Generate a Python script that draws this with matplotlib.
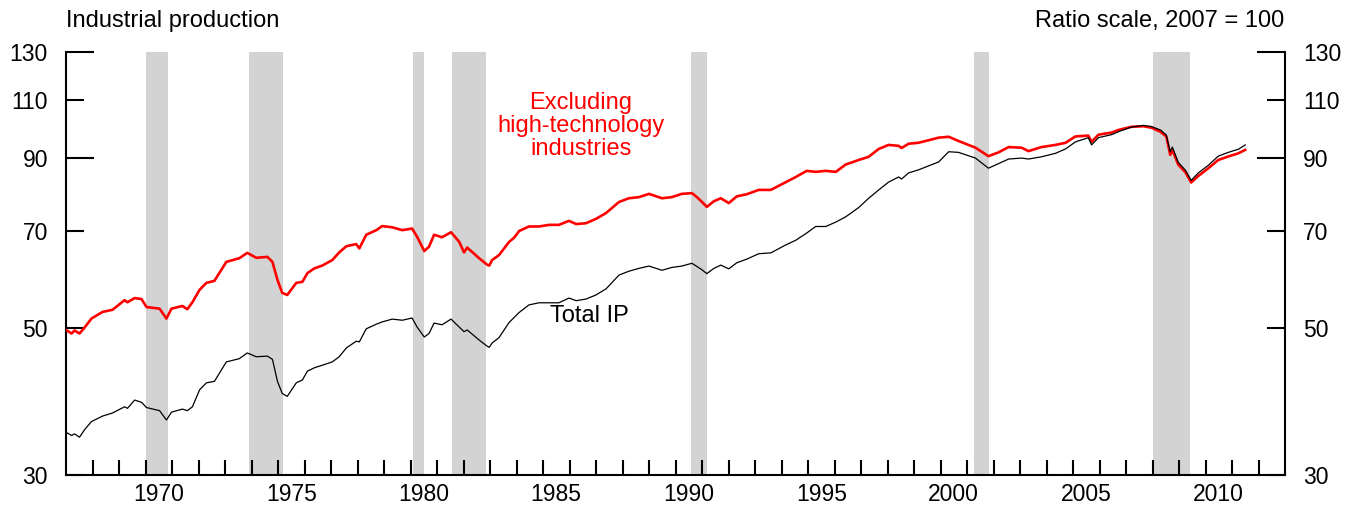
import matplotlib
matplotlib.use("Agg")
import matplotlib.pyplot as plt
from matplotlib.ticker import FixedLocator, NullLocator, FixedFormatter

plt.rcParams['font.family'] = ['Liberation Sans', 'DejaVu Sans']

# ---- data (2007 = 100) ----
dates = [
    1967.00, 1967.21, 1967.32, 1967.51, 1967.70, 1967.96, 1968.38, 1968.76, 1969.21, 1969.32,
    1969.59, 1969.85, 1970.04, 1970.53, 1970.79, 1970.98, 1971.39, 1971.58, 1971.77, 1972.04,
    1972.30, 1972.60, 1973.05, 1973.54, 1973.84, 1974.18, 1974.60, 1974.79, 1974.98, 1975.16,
    1975.35, 1975.69, 1975.92, 1976.11, 1976.37, 1976.67, 1977.05, 1977.31, 1977.58, 1977.95,
    1978.07, 1978.33, 1978.71, 1978.93, 1979.31, 1979.69, 1980.06, 1980.25, 1980.52, 1980.70,
    1980.89, 1981.19, 1981.53, 1981.84, 1982.02, 1982.14, 1982.59, 1982.89, 1982.97, 1983.08,
    1983.34, 1983.72, 1983.91, 1984.10, 1984.47, 1984.85, 1985.23, 1985.60, 1985.98, 1986.25,
    1986.62, 1987.00, 1987.38, 1987.87, 1988.24, 1988.62, 1989.00, 1989.49, 1989.86, 1990.24,
    1990.62, 1990.81, 1991.00, 1991.18, 1991.45, 1991.71, 1992.01, 1992.31, 1992.69, 1993.14,
    1993.60, 1994.16, 1994.54, 1994.95, 1995.29, 1995.67, 1996.05, 1996.42, 1996.91, 1997.29,
    1997.67, 1998.04, 1998.42, 1998.53, 1998.80, 1999.17, 1999.93, 2000.31, 2000.68, 2001.32,
    2001.81, 2002.19, 2002.57, 2003.06, 2003.32, 2003.81, 2004.34, 2004.72, 2005.09, 2005.58,
    2005.70, 2005.96, 2006.45, 2006.71, 2007.20, 2007.66, 2007.96, 2008.30, 2008.52, 2008.67,
    2008.75, 2008.97, 2009.24, 2009.46, 2009.73, 2010.11, 2010.48, 2010.86, 2011.24, 2011.50,
]

excl_high_tech = [
    49.6, 49.0, 49.5, 49.0, 50.0, 51.6, 52.8, 53.2, 55.0, 54.6,
    55.4, 55.2, 53.7, 53.4, 51.6, 53.4, 53.9, 53.3, 54.6, 57.0,
    58.4, 58.8, 62.8, 63.6, 64.8, 63.7, 63.9, 62.8, 59.0, 56.4,
    56.0, 58.4, 58.6, 60.4, 61.4, 62.0, 63.2, 64.9, 66.3, 66.8,
    65.8, 69.0, 70.1, 71.1, 70.8, 70.1, 70.5, 68.5, 65.2, 66.2,
    69.0, 68.4, 69.6, 67.3, 64.9, 66.0, 63.6, 62.2, 62.0, 63.2,
    64.3, 67.3, 68.3, 69.9, 71.0, 71.0, 71.4, 71.4, 72.4, 71.6,
    71.8, 72.9, 74.4, 77.3, 78.3, 78.6, 79.5, 78.3, 78.6, 79.5,
    79.7, 78.6, 77.3, 76.0, 77.5, 78.3, 77.0, 78.8, 79.4, 80.6,
    80.6, 82.8, 84.3, 86.1, 85.8, 86.1, 85.8, 88.0, 89.4, 90.4,
    92.9, 94.2, 93.9, 93.2, 94.6, 94.9, 96.6, 96.9, 95.5, 93.3,
    90.6, 91.8, 93.5, 93.3, 92.2, 93.5, 94.2, 94.9, 97.0, 97.3,
    95.2, 97.6, 98.3, 99.2, 100.3, 100.5, 100.0, 98.6, 97.0, 91.0,
    92.6, 88.0, 85.7, 82.7, 84.6, 86.9, 89.4, 90.5, 91.5, 92.6,
]

total_ip = [
    34.8, 34.4, 34.6, 34.2, 35.1, 36.1, 36.8, 37.2, 38.0, 37.8,
    38.9, 38.6, 37.9, 37.5, 36.3, 37.3, 37.7, 37.5, 38.0, 40.3,
    41.3, 41.5, 44.4, 44.9, 45.8, 45.2, 45.3, 44.8, 41.5, 39.8,
    39.4, 41.3, 41.7, 43.0, 43.5, 43.9, 44.4, 45.2, 46.6, 47.7,
    47.6, 49.8, 50.6, 51.0, 51.5, 51.3, 51.7, 50.1, 48.4, 49.0,
    50.8, 50.5, 51.5, 50.1, 49.3, 49.6, 47.9, 46.9, 46.7, 47.4,
    48.3, 50.9, 51.8, 52.7, 54.1, 54.5, 54.5, 54.5, 55.4, 54.9,
    55.2, 56.0, 57.2, 60.0, 60.8, 61.4, 61.9, 61.0, 61.6, 61.9,
    62.5, 61.8, 61.1, 60.3, 61.4, 62.1, 61.3, 62.6, 63.4, 64.6,
    64.8, 66.6, 67.7, 69.4, 71.0, 71.0, 72.1, 73.4, 75.8, 78.3,
    80.6, 82.8, 84.3, 83.7, 85.5, 86.4, 88.8, 92.0, 91.8, 90.0,
    86.9, 88.3, 89.7, 90.0, 89.7, 90.4, 91.5, 92.9, 95.2, 96.6,
    94.2, 96.6, 97.6, 98.6, 100.2, 100.8, 100.4, 99.2, 97.5, 92.0,
    93.5, 88.7, 86.3, 83.3, 85.5, 87.8, 90.6, 91.8, 92.8, 94.2,
]

recession_start = [1970.00, 1973.92, 1980.08, 1981.58, 1990.58, 2001.25, 2008.00]
recession_end = [1970.85, 1975.17, 1980.50, 1982.85, 1991.17, 2001.83, 2009.42]

y_ticks = [30, 50, 70, 90, 110, 130]
y_long_ticks = [90, 130]
year_labels = ['1970', '1975', '1980', '1985', '1990', '1995', '2000', '2005', '2010']
year_ticks = list(range(1968, 2013))

# ---- figure ----
fig = plt.figure(figsize=(13.58, 5.08), dpi=100)
ax = fig.add_axes([66 / 1358, 33 / 508, 1219 / 1358, 423 / 508])

for s, e in zip(recession_start, recession_end):
    ax.axvspan(s, e, color='#d3d3d3', lw=0, zorder=0)

ax.plot(dates, excl_high_tech, color='#ff0000', lw=1.9, zorder=3, solid_joinstyle='round')
ax.plot(dates, total_ip, color='black', lw=0.9, zorder=4)

ax.set_yscale('log')
ax.set_ylim(30, 130)
ax.set_xlim(1967, 2013)

ax.yaxis.set_major_locator(FixedLocator(y_ticks))
ax.yaxis.set_major_formatter(FixedFormatter([str(v) for v in y_ticks]))
ax.yaxis.set_minor_locator(NullLocator())
ax.tick_params(axis='y', which='major', direction='in', length=13, width=1.5,
               left=True, right=True, labelleft=True, labelright=True,
               labelsize=16.5, pad=13)

label_pos = [int(t) + 0.5 for t in year_labels]
ax.xaxis.set_major_locator(FixedLocator(label_pos))
ax.xaxis.set_major_formatter(FixedFormatter(year_labels))
ax.xaxis.set_minor_locator(FixedLocator(year_ticks))
ax.tick_params(axis='x', which='major', length=0, labelsize=16.5, pad=6)
ax.tick_params(axis='x', which='minor', direction='in', length=10.8, width=1.5)

for tick, v in zip(ax.yaxis.get_major_ticks(), y_ticks):
    if v in y_long_ticks:
        tick.tick1line.set_markersize(20)
        tick.tick2line.set_markersize(20)

ax.spines['top'].set_visible(False)
for sp in ('left', 'right', 'bottom'):
    ax.spines[sp].set_linewidth(1.5)

fig.text(66 / 1358, 1 - 27 / 508, 'Industrial production', ha='left', va='baseline', fontsize=17)
fig.text(1284 / 1358, 1 - 27 / 508, 'Ratio scale, 2007 = 100', ha='right', va='baseline', fontsize=17)

ax.text(1986.43, 100.6, 'Excluding\nhigh-technology\nindustries', color='#ff0000',
        ha='center', va='center', fontsize=17, linespacing=1.05)
ax.text(1986.74, 52.0, 'Total IP', color='black', ha='center', va='center', fontsize=17)

fig.savefig('out.png', dpi=100)
